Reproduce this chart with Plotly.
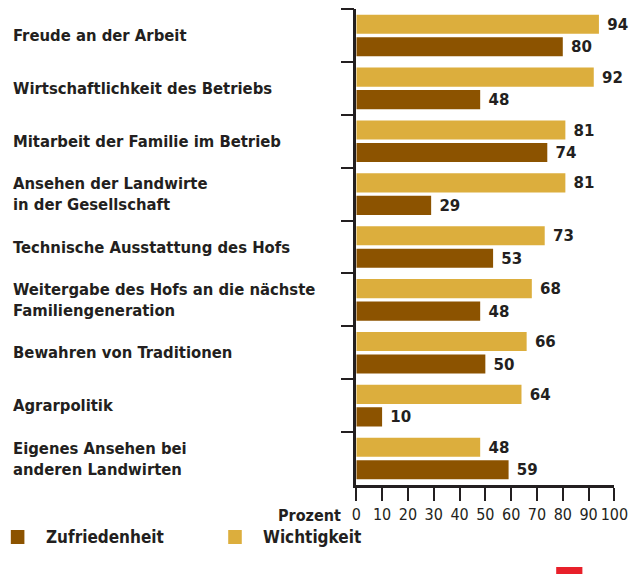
import plotly.graph_objects as go

categories = [
    "Freude an der Arbeit",
    "Wirtschaftlichkeit des Betriebs",
    "Mitarbeit der Familie im Betrieb",
    "Ansehen der Landwirte<br>in der Gesellschaft",
    "Technische Ausstattung des Hofs",
    "Weitergabe des Hofs an die nächste<br>Familiengeneration",
    "Bewahren von Traditionen",
    "Agrarpolitik",
    "Eigenes Ansehen bei<br>anderen Landwirten",
]
wichtigkeit = [94, 92, 81, 81, 73, 68, 66, 64, 48]
zufriedenheit = [80, 48, 74, 29, 53, 48, 50, 10, 59]
x_ticks = [0, 10, 20, 30, 40, 50, 60, 70, 80, 90, 100]
series_names = ["Zufriedenheit", "Wichtigkeit"]

W, H = 642, 574
FONT = "Liberation Sans Narrow, DejaVu Sans Condensed, Roboto Condensed, Arial Narrow, sans-serif"
DARK = "#231F20"
GOLD = "#DCAE3D"
BROWN = "#8C5300"
colors = {"Zufriedenheit": BROWN, "Wichtigkeit": GOLD}

fig = go.Figure()
for name, vals in [("Wichtigkeit", wichtigkeit), ("Zufriedenheit", zufriedenheit)]:
    fig.add_trace(go.Bar(
        y=categories, x=vals, orientation="h", name=name,
        marker=dict(color=colors[name], line=dict(width=0)),
        text=[" " + str(v) for v in vals], textposition="outside",
        textfont=dict(family=FONT, size=21, color=DARK, weight="bold"),
        cliponaxis=False, showlegend=False,
    ))

y0, y1 = 1 - 485 / H, 1 - 9 / H
fig.update_layout(
    width=W, height=H,
    margin=dict(l=0, r=0, t=0, b=0),
    paper_bgcolor="white", plot_bgcolor="white",
    barmode="group", bargap=0.15, bargroupgap=0.15,
    font=dict(family=FONT, color=DARK),
    xaxis=dict(
        domain=[362 / W, 628 / W], range=[0, 100],
        tickvals=x_ticks, ticktext=[str(t) for t in x_ticks],
        ticks="outside", ticklen=13, tickwidth=1.5, tickcolor=DARK,
        showline=True, linecolor=DARK, linewidth=2.5,
        showgrid=False, zeroline=False,
        tickfont=dict(family=FONT, size=16, color=DARK),
        anchor="y",
    ),
    yaxis=dict(
        domain=[y0, y1], autorange="reversed",
        showticklabels=False, ticks="outside", tickson="boundaries",
        ticklen=13, tickwidth=1.5, tickcolor=DARK,
        showline=True, linecolor=DARK, linewidth=2.5,
        showgrid=False, zeroline=False,
    ),
    showlegend=False,
)

n = len(categories)
for i, c in enumerate(categories):
    yc = y1 - (i + 0.5) * (y1 - y0) / n
    fig.add_annotation(
        xref="paper", yref="paper", x=6 / W, y=yc, xanchor="left", yanchor="middle",
        text=c, showarrow=False, align="left",
        font=dict(family=FONT, size=16.5, color=DARK, weight="bold"),
    )

fig.add_annotation(
    xref="paper", yref="paper", x=348 / W, y=1 - 515 / H, xanchor="right", yanchor="middle",
    text="Prozent", showarrow=False,
    font=dict(family=FONT, size=16, color=DARK, weight="bold"),
)

# manual legend
legend_x = [6, 230]
ly = 1 - 537 / H
for name, lx in zip(series_names, legend_x):
    fig.add_shape(type="rect", xref="paper", yref="paper",
                  x0=lx / W, x1=(lx + 14) / W, y0=1 - 544 / H, y1=1 - 530 / H,
                  fillcolor=colors[name], line=dict(width=0))
    fig.add_annotation(
        xref="paper", yref="paper", x=(lx + 34) / W, y=ly, xanchor="left", yanchor="middle",
        text=name, showarrow=False,
        font=dict(family=FONT, size=17, color=DARK, weight="bold"),
    )

fig.add_shape(type="rect", xref="paper", yref="paper",
              x0=568 / W, x1=595 / W, y0=0, y1=1 - 567 / H,
              fillcolor="#E8202A", line=dict(width=0))

fig.write_html("out.html")
